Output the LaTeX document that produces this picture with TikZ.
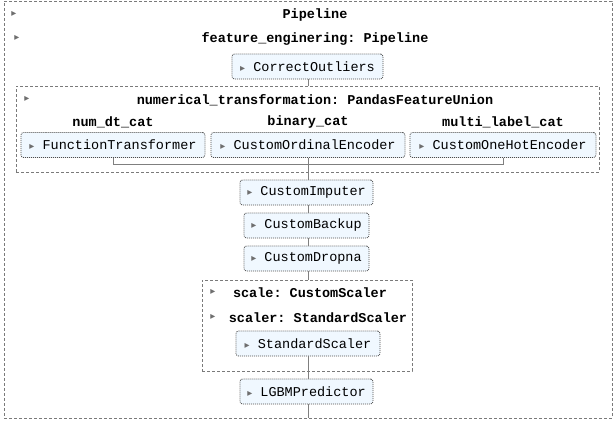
\documentclass[tikz,border=0pt]{standalone}
\usepackage{fontspec}
\setmonofont{Liberation Mono}
\newfontfamily\symfont{DejaVu Sans}
\definecolor{boxfill}{HTML}{F0F8FF}
\definecolor{linegray}{HTML}{7F7F7F}
\definecolor{dashgray}{HTML}{7A7A7A}
\definecolor{arrowgray}{HTML}{6E6E6E}
\newcommand{\tri}{{\symfont\fontsize{10}{10}\selectfont\color{arrowgray}▸}}
\tikzset{
  est/.style={draw=black!70, line width=0.8pt, dash pattern=on 1pt off 1pt, fill=boxfill, rounded corners=2.5pt,
    minimum height=25pt, inner sep=0pt, font=\ttfamily\fontsize{13.5}{16}\selectfont},
  cluster/.style={draw=dashgray, line width=0.8pt, dash pattern=on 3pt off 2pt, inner sep=0pt},
  ttl/.style={font=\ttfamily\bfseries\fontsize{13.5}{16}\selectfont, inner sep=0pt},
  arr/.style={inner sep=0pt, font=\symfont\fontsize{10}{10}\selectfont, text=arrowgray},
  conn/.style={draw=linegray, line width=0.8pt}
}
\begin{document}
\begin{tikzpicture}[x=1pt,y=-1pt]
\useasboundingbox (0,0) rectangle (616,424);
% containers
\node[cluster, minimum width=608pt, minimum height=417pt] (outer) at (308,209.5) {};
\node[cluster, minimum width=583pt, minimum height=86pt] (num) at (307.5,129) {};
\node[cluster, minimum width=210pt, minimum height=91pt] (scale) at (307,325.5) {};
% titles
\node[arr] (a1) at (14,14) {▸};
\node[ttl] (t1) at (315,15) {Pipeline};
\node[arr] (a2) at (17,38) {▸};
\node[ttl] (t2) at (315,39) {feature\_enginering: Pipeline};
\node[arr] (a3) at (27,99) {▸};
\node[ttl] (t3) at (315,100) {numerical\_transformation: PandasFeatureUnion};
\node[ttl] (l1) at (113,122) {num\_dt\_cat};
\node[ttl] (l2) at (308,122) {binary\_cat};
\node[ttl] (l3) at (503,122) {multi\_label\_cat};
\node[arr] (a4) at (213,292) {▸};
\node[ttl] (t4) at (310,293) {scale: CustomScaler};
\node[arr] (a5) at (213,317) {▸};
\node[ttl] (t5) at (318,318) {scaler: StandardScaler};
% estimators
\node[est, minimum width=151pt] (co) at (307.5,66.5) {\tri\ CorrectOutliers};
\node[est, minimum width=184pt] (ft) at (113,145) {\tri\ FunctionTransformer};
\node[est, minimum width=194pt] (oe) at (308,145) {\tri\ CustomOrdinalEncoder};
\node[est, minimum width=186pt] (oh) at (503,145) {\tri\ CustomOneHotEncoder};
\node[est, minimum width=133pt] (imp) at (306.5,192.5) {\tri\ CustomImputer};
\node[est, minimum width=125pt] (bk) at (306.5,225.5) {\tri\ CustomBackup};
\node[est, minimum width=125pt] (dn) at (306.5,258.5) {\tri\ CustomDropna};
\node[est, minimum width=144pt] (ss) at (308,343.5) {\tri\ StandardScaler};
\node[est, minimum width=133pt] (lg) at (306.5,391.5) {\tri\ LGBMPredictor};
\coordinate (bar) at (308,164);
% connectors
\draw[conn] (co.south -| outer.south) -- (num.north -| outer.south);
\draw[conn] (ft.south) -- (ft.south |- bar) -- (oh.south |- bar) -- (oh.south);
\draw[conn] (oe.south) -- (imp.north -| outer.south);
\draw[conn] (imp.south -| outer.south) -- (bk.north -| outer.south);
\draw[conn] (bk.south -| outer.south) -- (dn.north -| outer.south);
\draw[conn] (dn.south -| outer.south) -- (scale.north -| outer.south);
\draw[conn] (ss.south -| outer.south) -- (scale.south -| outer.south);
\draw[conn] (scale.south -| outer.south) -- (lg.north -| outer.south);
\draw[conn] (lg.south -| outer.south) -- (outer.south);
\end{tikzpicture}
\end{document}
